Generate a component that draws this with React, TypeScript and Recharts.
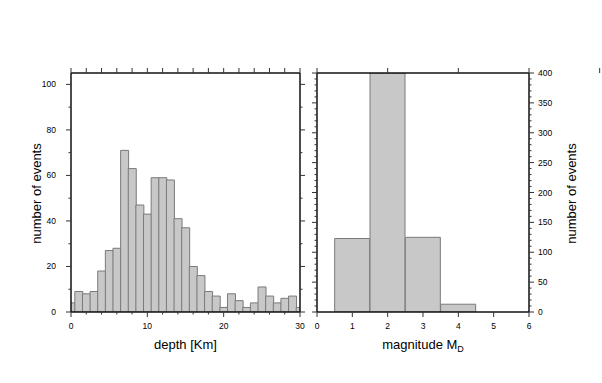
import { Bar, ComposedChart, Label, Line, XAxis, YAxis } from "recharts";

// depth histogram, 1 km bins centred on whole km
const depthBins = [0, 1, 2, 3, 4, 5, 6, 7, 8, 9, 10, 11, 12, 13, 14, 15, 16, 17, 18, 19, 20, 21, 22, 23, 24, 25, 26, 27, 28, 29, 30];
const depthCounts = [4, 9, 8, 9, 18, 27, 28, 71, 63, 47, 43, 59, 59, 58, 41, 37, 20, 16, 9, 7, 2, 8, 5, 2, 4, 11, 7, 4, 6, 7, 2];

// magnitude histogram
const magBins = [1, 2, 3, 4];
const magCounts = [123, 400, 125, 13];

const depthTicks = [0, 2, 4, 6, 8, 10, 12, 14, 16, 18, 20, 22, 24, 26, 28, 30];
const depthCountTicks = [0, 10, 20, 30, 40, 50, 60, 70, 80, 90, 100];
const magTicks = [0, 1, 2, 3, 4, 5, 6];
const magCountTicks = [
  0, 10, 20, 30, 40, 50, 60, 70, 80, 90, 100, 110, 120, 130, 140, 150, 160, 170, 180, 190, 200,
  210, 220, 230, 240, 250, 260, 270, 280, 290, 300, 310, 320, 330, 340, 350, 360, 370, 380, 390, 400,
];

const FONT = "'Liberation Sans', Arial, Helvetica, sans-serif";
const FILL = "#c8c8c8";
const EDGE = "#7a7a7a";
const FRAME = { stroke: "#111", strokeWidth: 1.5 };

type Side = "top" | "bottom" | "left" | "right";

function makeTick(side: Side, isMajor: (v: number) => boolean, labeled: (v: number) => boolean) {
  return (props: any) => {
    const { x, y, payload } = props;
    const v = payload.value;
    const len = isMajor(v) ? 5 : 2.5;
    let line;
    let text = null;
    if (side === "bottom") {
      line = <line x1={x} y1={y} x2={x} y2={y + len} stroke="#333" />;
      if (labeled(v))
        text = (
          <text x={x} y={y + 17} textAnchor="middle" fontSize={8.5} fontFamily={FONT} fill="#000">
            {v}
          </text>
        );
    } else if (side === "top") {
      line = <line x1={x} y1={y} x2={x} y2={y - len} stroke="#333" />;
    } else if (side === "left") {
      line = <line x1={x} y1={y} x2={x - len} y2={y} stroke="#333" />;
      if (labeled(v))
        text = (
          <text x={x - 15} y={y + 3} textAnchor="end" fontSize={8.5} fontFamily={FONT} fill="#000">
            {v}
          </text>
        );
    } else {
      line = <line x1={x} y1={y} x2={x + len} y2={y} stroke="#333" />;
      if (labeled(v))
        text = (
          <text x={x + 9} y={y + 3} textAnchor="start" fontSize={8.5} fontFamily={FONT} fill="#000">
            {v}
          </text>
        );
    }
    return (
      <g>
        {line}
        {text}
      </g>
    );
  };
}

const never = () => false;

function vTitle(cx: number, cy: number) {
  return (
    <text
      x={cx}
      y={cy}
      transform={`rotate(-90 ${cx} ${cy})`}
      textAnchor="middle"
      dominantBaseline="central"
      fontSize={13}
      fontFamily={FONT}
    >
      number of events
    </text>
  );
}

export default function App() {
  const depthData = depthBins.map((d, i) => ({ d, n: depthCounts[i] }));
  const magData = magBins.map((m, i) => ({ m, n: magCounts[i] }));

  return (
    <div style={{ position: "absolute", left: 0, top: 0, width: 602, height: 383, background: "#fff" }}>
      <div style={{ position: "absolute", left: 0, top: 0 }}>
        <ComposedChart
          width={310}
          height={383}
          data={depthData}
          margin={{ top: 63, right: 0, bottom: 41, left: 41 }}
          barCategoryGap={0}
          barGap={0}
        >
          <XAxis
            dataKey="d"
            type="number"
            domain={[0, 30]}
            allowDataOverflow
            ticks={depthTicks}
            interval={0}
            height={30}
            tickSize={0}
            tickMargin={0}
            axisLine={FRAME}
            tickLine={false}
            tick={makeTick("bottom", (v) => v % 10 === 0, (v) => v % 10 === 0)}
          >
            <Label
              content={({ viewBox }: any) => (
                <text
                  x={viewBox.x + viewBox.width / 2}
                  y={viewBox.y + 37}
                  textAnchor="middle"
                  fontSize={13}
                  fontFamily={FONT}
                >
                  depth [Km]
                </text>
              )}
            />
          </XAxis>
          <XAxis
            xAxisId="top"
            orientation="top"
            type="number"
            domain={[0, 30]}
            ticks={depthTicks}
            interval={0}
            height={10}
            tickSize={0}
            tickMargin={0}
            axisLine={FRAME}
            tickLine={false}
            tick={makeTick("top", () => true, never)}
          />
          <YAxis
            type="number"
            domain={[0, 105]}
            allowDataOverflow
            ticks={depthCountTicks}
            interval={0}
            width={30}
            tickSize={0}
            tickMargin={0}
            axisLine={FRAME}
            tickLine={false}
            tick={makeTick("left", (v) => v % 20 === 0, (v) => v % 20 === 0)}
          >
            <Label content={({ viewBox }: any) => vTitle(viewBox.x - 5, viewBox.y + viewBox.height / 2 + 1)} />
          </YAxis>
          <YAxis
            yAxisId="right"
            orientation="right"
            type="number"
            domain={[0, 105]}
            allowDataOverflow
            ticks={depthCountTicks}
            interval={0}
            width={10}
            tickSize={0}
            tickMargin={0}
            axisLine={FRAME}
            tickLine={false}
            tick={makeTick("right", (v) => v % 20 === 0, never)}
          />
          <Bar dataKey="n" fill={FILL} stroke={EDGE} strokeWidth={1} isAnimationActive={false} />
          <Line
            yAxisId="right"
            dataKey="n"
            stroke="none"
            dot={false}
            activeDot={false}
            legendType="none"
            isAnimationActive={false}
          />
        </ComposedChart>
      </div>

      <div style={{ position: "absolute", left: 287, top: 0 }}>
        <ComposedChart
          width={315}
          height={383}
          data={magData}
          margin={{ top: 63, right: 63, bottom: 41, left: 0 }}
          barCategoryGap={0}
          barGap={0}
        >
          <XAxis
            dataKey="m"
            type="number"
            domain={[0, 6]}
            allowDataOverflow
            ticks={magTicks}
            interval={0}
            height={30}
            tickSize={0}
            tickMargin={0}
            axisLine={FRAME}
            tickLine={false}
            tick={makeTick("bottom", () => true, () => true)}
          >
            <Label
              content={({ viewBox }: any) => (
                <text
                  x={viewBox.x + viewBox.width / 2}
                  y={viewBox.y + 37}
                  textAnchor="middle"
                  fontSize={13}
                  fontFamily={FONT}
                >
                  magnitude M
                  <tspan fontSize={9} dy={3}>
                    D
                  </tspan>
                </text>
              )}
            />
          </XAxis>
          <XAxis
            xAxisId="top"
            orientation="top"
            type="number"
            domain={[0, 6]}
            ticks={magTicks}
            interval={0}
            height={10}
            tickSize={0}
            tickMargin={0}
            axisLine={FRAME}
            tickLine={false}
            tick={makeTick("top", () => true, never)}
          />
          <YAxis
            yAxisId="left"
            type="number"
            domain={[0, 400]}
            allowDataOverflow
            ticks={magCountTicks}
            interval={0}
            width={30}
            tickSize={0}
            tickMargin={0}
            axisLine={FRAME}
            tickLine={false}
            tick={makeTick("left", (v) => v % 50 === 0, never)}
          />
          <YAxis
            orientation="right"
            type="number"
            domain={[0, 400]}
            allowDataOverflow
            ticks={magCountTicks}
            interval={0}
            width={10}
            tickSize={0}
            tickMargin={0}
            axisLine={FRAME}
            tickLine={false}
            tick={makeTick("right", (v) => v % 50 === 0, (v) => v % 50 === 0)}
          >
            <Label content={({ viewBox }: any) => vTitle(viewBox.x + 42, viewBox.y + viewBox.height / 2 + 1)} />
          </YAxis>
          <Bar dataKey="n" fill={FILL} stroke={EDGE} strokeWidth={1} isAnimationActive={false} />
          <Line
            yAxisId="left"
            dataKey="n"
            stroke="none"
            dot={false}
            activeDot={false}
            legendType="none"
            isAnimationActive={false}
          />
        </ComposedChart>
      </div>
    </div>
  );
}
